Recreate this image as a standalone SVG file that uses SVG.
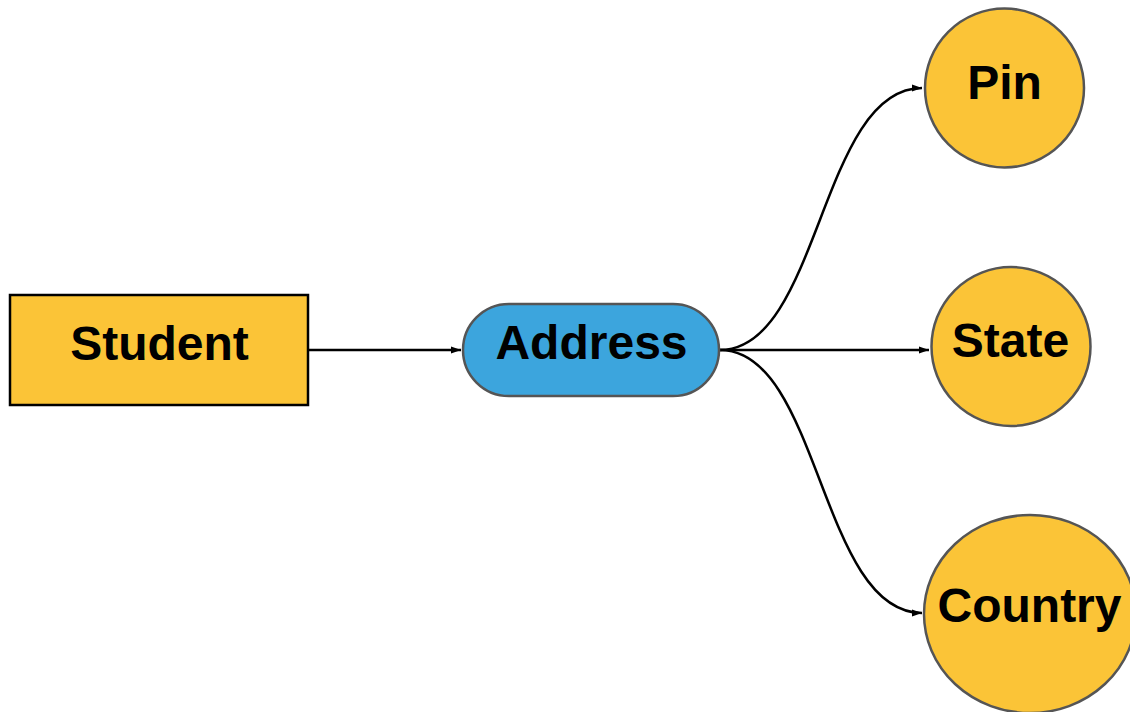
<svg xmlns="http://www.w3.org/2000/svg" width="1130" height="712" viewBox="0 0 1130 712">
  <style>
    .bg { fill: #ffffff; }
    .entity { fill: #FBC437; stroke: #000000; stroke-width: 2.5; }
    .attr { fill: #FBC437; stroke: #555555; stroke-width: 2.5; }
    .multi { fill: #3CA5DD; stroke: #555555; stroke-width: 2.5; }
    .label { font-family: "Liberation Sans", Arial, sans-serif; font-weight: bold; font-size: 48px; fill: #000000; text-anchor: middle; }
    .edge { fill: none; stroke: #000000; stroke-width: 2.5; marker-end: url(#arrow); }
  </style>
  <defs>
    <marker id="arrow" markerUnits="userSpaceOnUse" markerWidth="12" markerHeight="10" refX="10" refY="4" orient="auto">
      <path d="M0,0.6 L10,4 L0,7.4 z" fill="#000000"/>
    </marker>
  </defs>

  <rect class="bg" x="0" y="0" width="1130" height="712"/>

  <g id="connectors">
    <path class="edge" d="M308,350 L461,350"/>
    <path class="edge" d="M720,350 C820,350 820,88 922,88"/>
    <path class="edge" d="M720,350 L929,350"/>
    <path class="edge" d="M720,350 C820,350 820,613 922,613"/>
  </g>

  <g id="student">
    <rect class="entity" x="10" y="295" width="298" height="110"/>
    <text class="label" x="159.5" y="360">Student</text>
  </g>

  <g id="address">
    <rect class="multi" x="463" y="304" width="256" height="92" rx="46" ry="46"/>
    <text class="label" x="591.5" y="359">Address</text>
  </g>

  <g id="pin">
    <circle class="attr" cx="1004.5" cy="88" r="79.5"/>
    <text class="label" x="1004.5" y="99">Pin</text>
  </g>

  <g id="state">
    <circle class="attr" cx="1011" cy="346.5" r="79.5"/>
    <text class="label" x="1010.5" y="357">State</text>
  </g>

  <g id="country">
    <ellipse class="attr" cx="1030" cy="614" rx="106" ry="99"/>
    <text class="label" x="1029.5" y="622">Country</text>
  </g>
</svg>
